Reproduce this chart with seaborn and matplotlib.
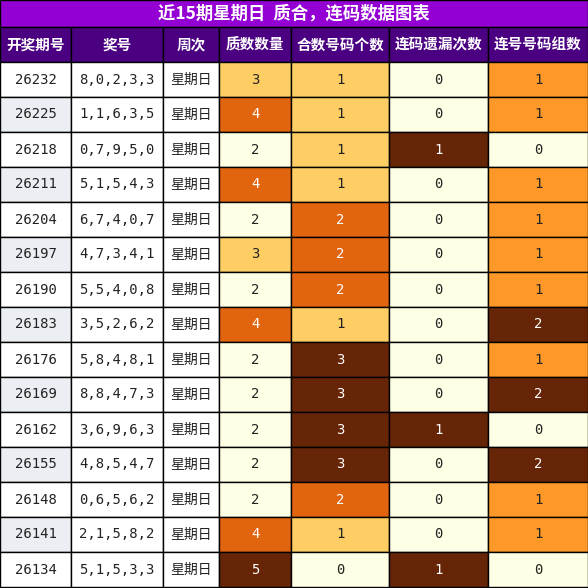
import numpy as np
import matplotlib
matplotlib.use('Agg')
import matplotlib.pyplot as plt
import seaborn as sns
from matplotlib.patches import Rectangle

sns.set_theme(style='white')
plt.rcParams['font.family'] = ['Noto Sans CJK SC', 'DejaVu Sans']

title = '近15期星期日  质合，连码数据图表'
headers = ['开奖期号', '奖号', '周次', '质数数量', '合数号码个数', '连码遗漏次数', '连号号码组数']
periods = ['26232', '26225', '26218', '26211', '26204', '26197', '26190', '26183',
           '26176', '26169', '26162', '26155', '26148', '26141', '26134']
numbers = ['8,0,2,3,3', '1,1,6,3,5', '0,7,9,5,0', '5,1,5,4,3', '6,7,4,0,7', '4,7,3,4,1',
           '5,5,4,0,8', '3,5,2,6,2', '5,8,4,8,1', '8,8,4,7,3', '3,6,9,6,3', '4,8,5,4,7',
           '0,6,5,6,2', '2,1,5,8,2', '5,1,5,3,3']
weekday = ['星期日'] * 15
prime_cnt = [3, 4, 2, 4, 2, 3, 2, 4, 2, 2, 2, 2, 2, 4, 5]
composite_cnt = [1, 1, 1, 1, 2, 2, 2, 1, 3, 3, 3, 3, 2, 1, 0]
consec_miss = [0, 0, 1, 0, 0, 0, 0, 0, 0, 0, 1, 0, 0, 0, 1]
consec_groups = [1, 1, 0, 1, 1, 1, 1, 2, 1, 2, 0, 2, 1, 1, 0]

col_edges = [0, 71, 163, 219, 291, 389, 488, 588]
W, H = 588, 588
title_h, head_h, row_h = 27, 35, 35

fig = plt.figure(figsize=(5.88, 5.88), dpi=100)
ax = fig.add_axes([0, 0, 1, 1])
ax.set_xlim(0, W)
ax.set_ylim(H, 0)
ax.axis('off')

# title bar
ax.add_patch(Rectangle((0, 0), W, title_h, facecolor='#9400d3', edgecolor='black', lw=1))
ax.text(W / 2, title_h / 2, title, color='white', fontsize=12.5, fontweight='bold', ha='center', va='center')

# header
for j, h in enumerate(headers):
    x0, x1 = col_edges[j], col_edges[j + 1]
    ax.add_patch(Rectangle((x0, title_h), x1 - x0, head_h, facecolor='#4b0082', edgecolor='black', lw=1))
    ax.text((x0 + x1) / 2, title_h + head_h / 2, h, color='white', fontsize=10.5, fontweight='bold',
            ha='center', va='center')

cmap = plt.get_cmap('YlOrBr')
text_cols = [periods, numbers, weekday]
num_cols = [prime_cnt, composite_cnt, consec_miss, consec_groups]

for i in range(len(periods)):
    y0 = title_h + head_h + i * row_h
    for j, col in enumerate(text_cols):
        x0, x1 = col_edges[j], col_edges[j + 1]
        fc = '#ebeef2' if (j == 0 and i % 2 == 1) else 'white'
        ax.add_patch(Rectangle((x0, y0), x1 - x0, row_h, facecolor=fc, edgecolor='black', lw=1))
        fam = ['Noto Sans CJK SC'] if j == 2 else ['DejaVu Sans Mono']
        ax.text((x0 + x1) / 2, y0 + row_h / 2, col[i], fontsize=10, ha='center', va='center',
                color='#222222', family=fam)
    for k, col in enumerate(num_cols):
        j = k + 3
        x0, x1 = col_edges[j], col_edges[j + 1]
        lo, hi = min(col), max(col)
        t = (col[i] - lo) / (hi - lo)
        ax.add_patch(Rectangle((x0, y0), x1 - x0, row_h, facecolor=cmap(t), edgecolor='black', lw=1))
        ax.text((x0 + x1) / 2, y0 + row_h / 2, str(col[i]), fontsize=10, ha='center', va='center',
                color='white' if t > 0.6 else '#222222', family=['DejaVu Sans Mono'])

fig.savefig('out.png', dpi=100)
